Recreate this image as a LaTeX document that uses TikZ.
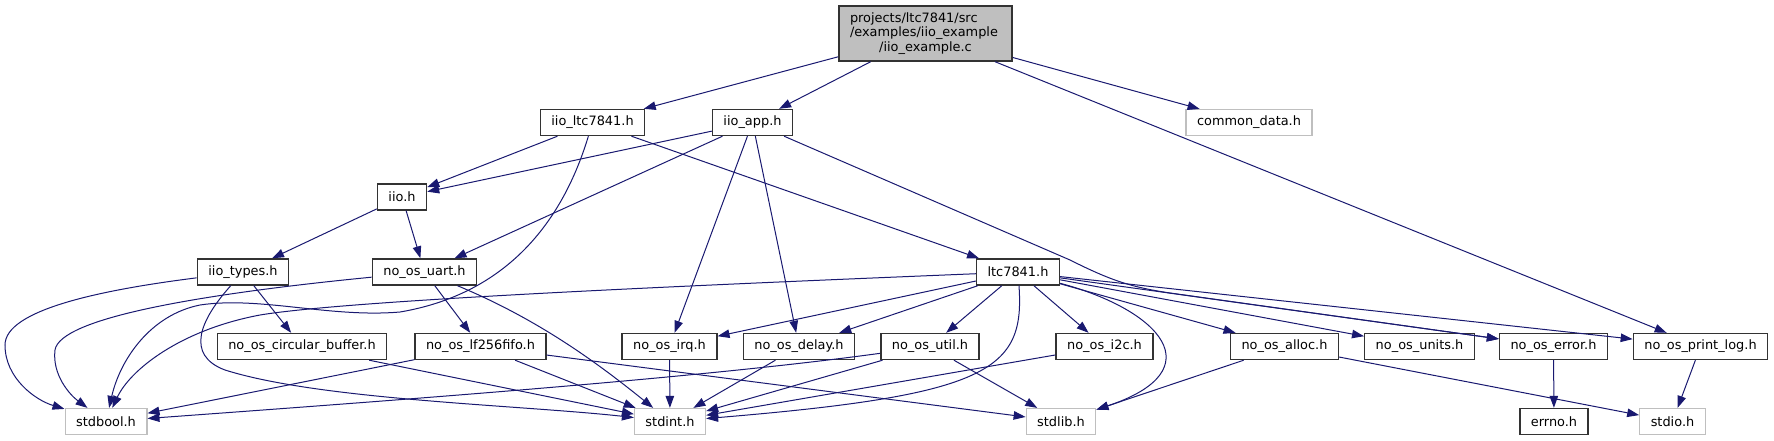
\documentclass[tikz,border=0pt]{standalone}
\usepackage{fontspec}
\setmainfont{DejaVu Sans}
\usetikzlibrary{arrows.meta}
\definecolor{edgeblue}{HTML}{191970}
\definecolor{boxgray}{HTML}{BFBFBF}
\begin{document}
\begin{tikzpicture}[x=1pt,y=-1pt,font=\fontsize{12.9}{14.5}\selectfont]
	% styles
	\tikzstyle{hfile} += [draw=black!80,line width=1.4pt,fill=white,inner xsep=11pt,inner ysep=0pt,minimum height=26pt]
	\tikzstyle{sysfile} += [hfile,draw=boxgray,line width=1.2pt]
	\tikzstyle{mainfile} += [hfile,fill=boxgray,text width=151pt,align=left,minimum height=55pt]
	\tikzstyle{dep} += [draw=edgeblue,line width=1pt,-{Triangle[length=12pt,width=8.5pt]}]
	
	% bounding box
	\useasboundingbox (0,0) rectangle (1774,440);
	
	% source file
	\node[mainfile] (root) at (925.5,33.5) {projects/ltc7841/src\\/examples/iio\_example\\\makebox[151pt][c]{/iio\_example.c}};
	
	% headers
	\node[hfile] (iioltc) at (592.5,122.5) {iio\_ltc7841.h};
	\node[hfile] (iioapp) at (752.5,122.5) {iio\_app.h};
	\node[sysfile] (common) at (1249,122.5) {common\_data.h};
	\node[hfile] (iio) at (402,197) {iio.h};
	\node[hfile] (iiotypes) at (243,272) {iio\_types.h};
	\node[hfile] (uart) at (424.5,272) {no\_os\_uart.h};
	\node[hfile] (ltc) at (1018,272) {ltc7841.h};
	\node[hfile] (circbuf) at (302,346.5) {no\_os\_circular\_buffer.h};
	\node[hfile] (fifo) at (480.5,346.5) {no\_os\_lf256fifo.h};
	\node[hfile] (irq) at (669.5,346.5) {no\_os\_irq.h};
	\node[hfile] (delay) at (799,346.5) {no\_os\_delay.h};
	\node[hfile] (util) at (930,346.5) {no\_os\_util.h};
	\node[hfile] (itwoc) at (1104.5,346.5) {no\_os\_i2c.h};
	\node[hfile] (alloc) at (1284.5,346.5) {no\_os\_alloc.h};
	\node[hfile] (units) at (1419.5,346.5) {no\_os\_units.h};
	\node[hfile] (error) at (1553.5,346.5) {no\_os\_error.h};
	\node[hfile] (printlog) at (1700.5,346.5) {no\_os\_print\_log.h};
	
	% system headers
	\node[sysfile] (stdbool) at (106,421.5) {stdbool.h};
	\node[sysfile] (stdint) at (670,421.5) {stdint.h};
	\node[sysfile] (stdlib) at (1061,421.5) {stdlib.h};
	\node[hfile] (errno) at (1554,421.5) {errno.h};
	\node[sysfile] (stdio) at (1672.5,421.5) {stdio.h};
	
	% straight includes
	\foreach \from/\to in {root/iioltc,root/iioapp,root/common,root/printlog,
		iioltc/iio,iioltc/ltc,iioapp/iio,iioapp/uart,iioapp/irq,iioapp/delay,
		iio/iiotypes,iio/uart,iiotypes/circbuf,uart/fifo,
		circbuf/stdint,fifo/stdbool,fifo/stdint,fifo/stdlib,
		irq/stdint,delay/stdint,util/stdint,util/stdlib,itwoc/stdint,
		ltc/irq,ltc/delay,ltc/util,ltc/itwoc,ltc/alloc,ltc/units,ltc/error,ltc/printlog,
		alloc/stdlib,alloc/stdio,error/errno,printlog/stdio}
	{
		\draw[dep] (\from) -- (\to);
	}
	
	% curved includes
	\draw[dep] (iiotypes) .. controls (100,290) and (5,310) .. (5,345)
	.. controls (5,378) and (35,400) .. (stdbool);
	\draw[dep] (uart) .. controls (200,294) and (60,318) .. (55,350)
	.. controls (52,375) and (70,395) .. (stdbool);
	\draw[dep] (iioltc) .. controls (560,230) and (500,295) .. (400,312)
	.. controls (330,318) and (260,296) .. (200,305)
	.. controls (150,315) and (120,360) .. (stdbool);
	\draw[dep] (ltc) .. controls (700,285) and (350,300) .. (260,315)
	.. controls (180,330) and (130,370) .. (stdbool);
	\draw[dep] (util) .. controls (700,378) and (400,400) .. (stdbool);
	\draw[dep] (iiotypes) .. controls (200,320) and (185,355) .. (225,370)
	.. controls (320,400) and (520,405) .. (stdint);
	\draw[dep] (uart) .. controls (540,320) and (600,365) .. (stdint);
	\draw[dep] (ltc) .. controls (1025,370) and (990,395) .. (stdint);
	\draw[dep] (ltc) .. controls (1160,310) and (1215,370) .. (stdlib);
	\draw[dep] (iioapp) -- (1070,260) .. controls (1110,280) and (1130,287) .. (1170,293) -- (error);
\end{tikzpicture}
\end{document}
